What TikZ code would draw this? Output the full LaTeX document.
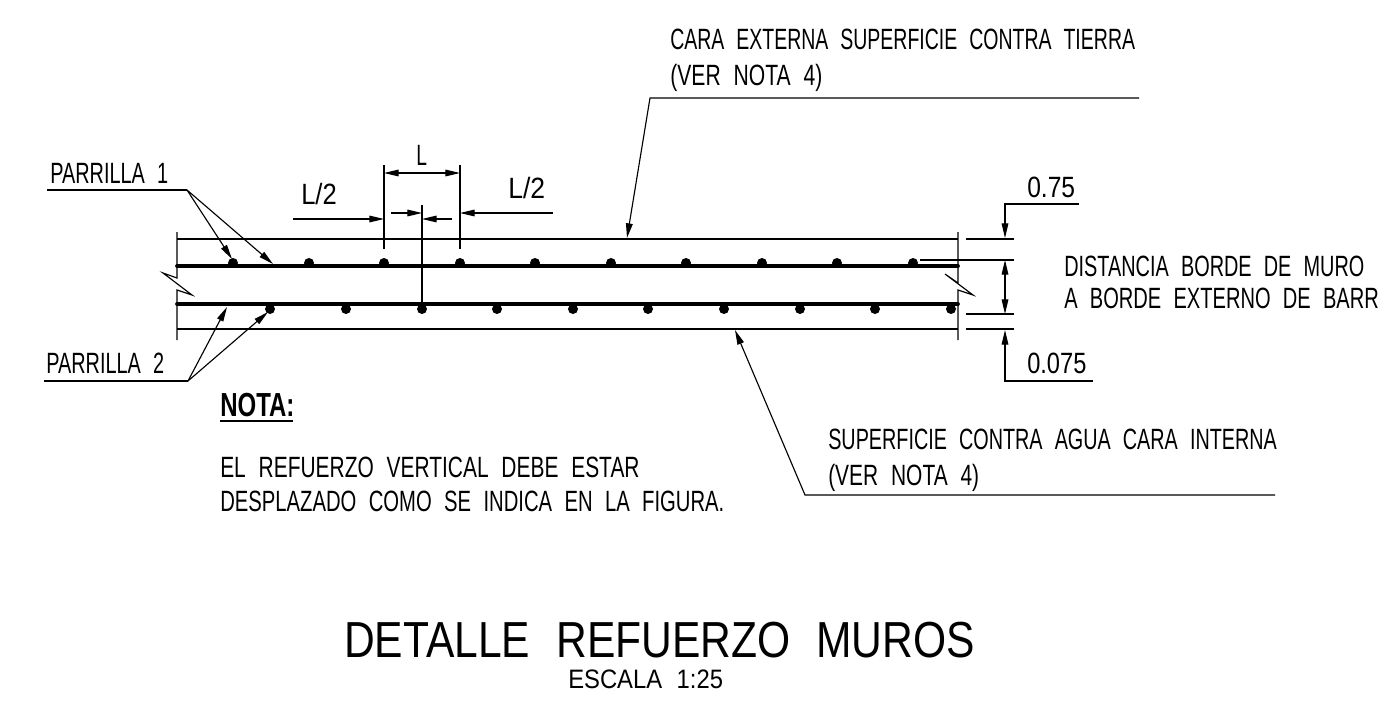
\documentclass[tikz,border=0pt]{standalone}
\usepackage{fontspec}
\setmainfont[FakeStretch=0.655,WordSpace=2.2]{Liberation Sans}
\newfontfamily\boldcad[FakeStretch=0.72,WordSpace=1.5]{Liberation Sans}
\newfontfamily\titlecad[FakeStretch=0.84,WordSpace=2.2]{Liberation Sans}
\newfontfamily\scalecad[FakeStretch=0.85,WordSpace=2.2]{Liberation Sans}
\newcommand{\sx}[2]{\scalebox{#1}[1]{#2}}
\usetikzlibrary{arrows.meta}
\tikzset{
  thin line/.style={line width=0.85pt,black},
  bar/.style={line width=2.8pt,black,line cap=round},
  arr/.style={thin line,-{Triangle[width=5pt,length=11pt]}},
  darr/.style={thin line,{Triangle[width=5pt,length=11pt]}-{Triangle[width=5pt,length=11pt]}},
  lbls/.style={anchor=base west,inner sep=0pt,font=\fontsize{22}{26}\selectfont},
}
\begin{document}
\begin{tikzpicture}[x=0.75pt,y=-0.75pt]
\useasboundingbox (0,0) rectangle (1379,703);
\clip (0,0) rectangle (1379,703);
% texts
\node[lbls] (t1) at (670,49) {\sx{1.015}{CARA EXTERNA SUPERFICIE CONTRA TIERRA}};
\node[lbls] (t2) at (670,85) {\sx{1.10}{(VER NOTA 4)}};
\node[lbls] (p1) at (50,183) {\sx{1.035}{PARRILLA 1}};
\node[lbls] (p2) at (46,373) {\sx{1.035}{PARRILLA 2}};
\node[lbls] (l) at (416,165) {L};
\node[lbls] (l2a) at (301,204) {\sx{1.33}{L/2}};
\node[lbls] (l2b) at (508,198) {\sx{1.38}{L/2}};
\node[lbls] (v1) at (1027,197) {\sx{1.28}{0.75}};
\node[lbls] (v2) at (1027,373) {\sx{1.23}{0.075}};
\node[lbls] (d1) at (1064,276) {\sx{1.035}{DISTANCIA BORDE DE MURO}};
\node[lbls] (d2) at (1064,308) {\sx{1.045}{A BORDE EXTERNO DE BARR}};
\node[lbls] (s1) at (828,449) {\sx{1.03}{SUPERFICIE CONTRA AGUA CARA INTERNA}};
\node[lbls] (s2) at (828,485) {\sx{1.09}{(VER NOTA 4)}};
\node[lbls,font=\boldcad\bfseries\fontsize{25}{28}\selectfont] (n) at (220,416) {NOTA:};
\draw[line width=2.2pt] (n.base west |- 0,421) -- (293,421);
\node[lbls] (e1) at (220,477) {\sx{1.09}{EL REFUERZO VERTICAL DEBE ESTAR}};
\node[lbls] (e2) at (220,511) {\sx{1.054}{DESPLAZADO COMO SE INDICA EN LA FIGURA.}};
\node[lbls,font=\titlecad\fontsize{38}{42}\selectfont] (title) at (344,657) {DETALLE REFUERZO MUROS};
\node[lbls,font=\scalecad\fontsize{20}{22}\selectfont] (esc) at (568,688) {\sx{1.05}{ESCALA 1:25}};
% wall
\coordinate (TL) at (177,239); \coordinate (TR) at (958,239);
\coordinate (BL) at (177,329); \coordinate (BR) at (958,329);
\draw[thin line] (TL) -- (TR);
\draw[thin line] (BL) -- (BR);
\draw[thin line] (177,232) -- (177,278) -- (163,273) -- (192,295) -- (177,290) -- (177,340);
\draw[thin line] (958,232) -- (958,283) -- (945,274) -- (973,295) -- (958,290) -- (958,340);
\draw[bar] (177,266) -- (958,266);
\draw[bar] (177,304) -- (958,304);
\foreach \x in {233,309,384,460,535,611,686,762,837,913} \fill (\x,263) circle (5);
\foreach \x in {270,346,422,497,573,648,724,800,875,951} \fill (\x,309) circle (5);
% dims
\draw[thin line] (384,165) -- (384,249);
\draw[thin line] (460,165) -- (460,249);
\draw[darr] (384,173) -- (460,173);
\draw[arr] (293,219) -- (384,219);
\draw[arr] (391,213) -- (422,213);
\draw[thin line] (422,205) -- (422,309);
\draw[arr] (452,219) -- (422,219);
\draw[arr] (553,213) -- (460,213);
% leaders
\draw[thin line] (47,190) -- (187,190);
\draw[arr] (187,190) -- (232,259);
\draw[arr] (187,190) -- (273,264);
\draw[thin line] (44,381) -- (188,381);
\draw[arr] (188,381) -- (227,307);
\draw[arr] (188,381) -- (268,312);
\draw[arr] (1139,98) -- (650,98) -- (627,238);
\draw[arr] (1275,495) -- (805,495) -- (735,330);
% right dims
\draw[thin line] (966,239) -- (1014,239);
\draw[thin line] (920,260) -- (1014,260);
\draw[thin line] (966,314) -- (1014,314);
\draw[thin line] (966,329) -- (1014,329);
\draw[arr] (1079,204) -- (1005,204) -- (1005,238);
\draw[darr] (1005,260) -- (1005,314);
\draw[arr] (1093,381) -- (1005,381) -- (1005,330);
\end{tikzpicture}
\end{document}
